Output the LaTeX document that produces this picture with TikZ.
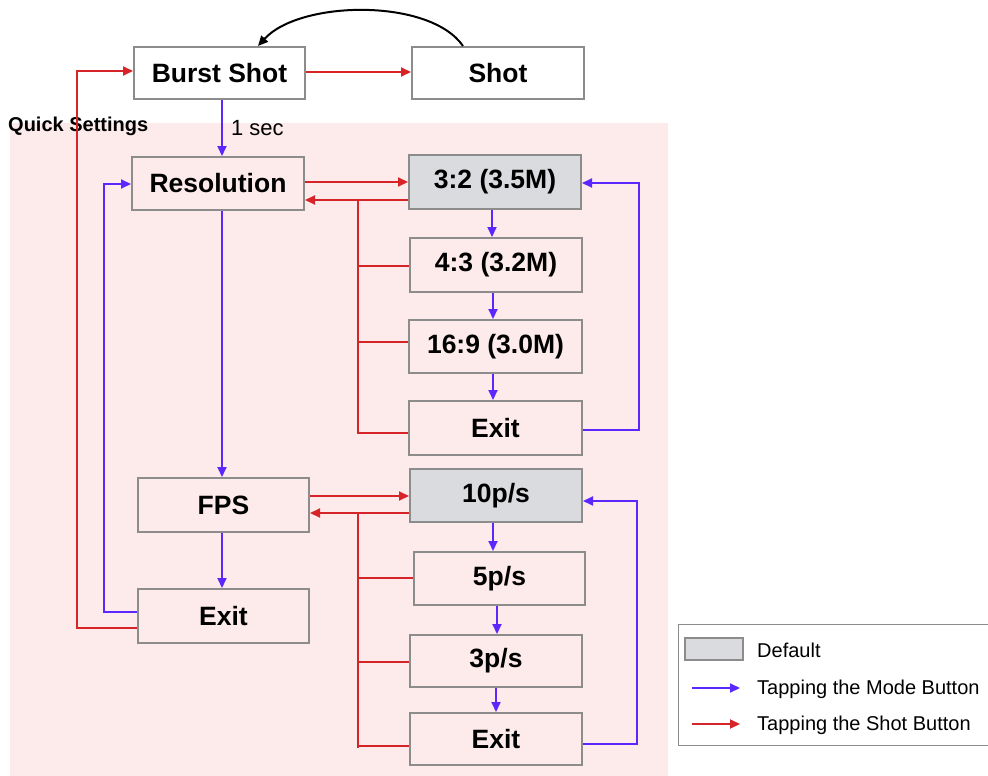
\documentclass[tikz,border=0pt]{standalone}
\usepackage{fontspec}
\setmainfont{Liberation Sans}
\usetikzlibrary{arrows.meta}
\definecolor{pinkbg}{RGB}{253,234,234}
\definecolor{boxline}{RGB}{140,140,140}
\definecolor{deffill}{RGB}{217,219,222}
\definecolor{myred}{RGB}{215,36,40}
\definecolor{myblue}{RGB}{90,40,255}
\tikzset{
  stepbox/.style={draw=boxline, line width=2pt, inner sep=0pt, font=\bfseries\fontsize{26.5}{30}\selectfont},
  defbox/.style={stepbox, fill=deffill},
  redarr/.style={draw=myred, line width=2pt, -{Triangle[length=10pt,width=9pt]}},
  redline/.style={draw=myred, line width=2pt},
  bluearr/.style={draw=myblue, line width=2pt, -{Triangle[length=10pt,width=9pt]}},
  legtext/.style={anchor=west, inner sep=0pt, font=\fontsize{20}{24}\selectfont},
}
\newcommand{\bx}[6]{\node[#1, minimum width=#4pt, minimum height=#5pt] (#2) at (#3) {#6};}
\begin{document}
\begin{tikzpicture}[x=1pt,y=-1pt]
\useasboundingbox (0,0) rectangle (988,776);
\fill[pinkbg] (10,123) rectangle (668,776);
% boxes
\bx{stepbox}{burst}{219.5,73}{171}{52}{Burst Shot}
\bx{stepbox}{shot}{498,73}{172}{52}{Shot}
\bx{stepbox}{res}{218,183.5}{172}{53}{Resolution}
\bx{defbox}{r32}{495,182}{172}{54}{3:2 (3.5M)}
\bx{stepbox}{r43}{496,265}{172}{54}{4:3 (3.2M)}
\bx{stepbox}{r169}{495.5,346.5}{173}{53}{16:9 (3.0M)}
\bx{stepbox}{rexit}{495.5,428}{173}{54}{Exit}
\bx{stepbox}{fps}{223.5,505}{171}{54}{FPS}
\bx{stepbox}{fexit}{223.5,616}{171}{54}{Exit}
\bx{defbox}{f10}{496,495.5}{172}{53}{10p/s}
\bx{stepbox}{f5}{499.5,578.5}{171}{53}{5p/s}
\bx{stepbox}{f3}{496,661}{172}{52}{3p/s}
\bx{stepbox}{fexitb}{496,739}{172}{52}{Exit}
% texts
\node[anchor=west, inner sep=0pt, font=\bfseries\fontsize{20}{24}\selectfont] (qs) at (8,126) {Quick Settings};
% black curve
\draw[line width=2pt, -{Triangle[length=10pt,width=9pt]}] (shot.north -| 463,0) .. controls (430,-2) and (300,0) .. (burst.north -| 258,0);
% red connectors
\draw[redarr] (fexit.west |- 0,628) -| (77,71) -- (burst.west |- 0,71);
\draw[redarr] (burst.east |- 0,72) -- (shot.west |- 0,72);
\draw[redarr] (res.east |- 0,182) -- (r32.west |- 0,182);
\draw[redarr] (r32.west |- 0,200) -- (res.east |- 0,200);
\draw[redline] (358,200) -- (358,433) -- (rexit.west |- 0,433);
\draw[redline] (358,266) -- (r43.west |- 0,266);
\draw[redline] (358,342) -- (r169.west |- 0,342);
\draw[redarr] (fps.east |- 0,496) -- (f10.west |- 0,496);
\draw[redarr] (f10.west |- 0,513) -- (fps.east |- 0,513);
\draw[redline] (358,513) -- (358,748);
\draw[redline] (358,746) -- (fexitb.west |- 0,746);
\draw[redline] (358,578) -- (f5.west |- 0,578);
\draw[redline] (358,662) -- (f3.west |- 0,662);
% blue connectors
\draw[bluearr] (burst.south -| 222,0) -- node[right=8pt, inner sep=0pt, font=\fontsize{22}{26}\selectfont] (sec) {1 sec} (res.north -| 222,0);
\draw[bluearr] (r32.south -| 492,0) -- (r43.north -| 492,0);
\draw[bluearr] (r43.south -| 493,0) -- (r169.north -| 493,0);
\draw[bluearr] (r169.south -| 493,0) -- (rexit.north -| 493,0);
\draw[bluearr] (rexit.east |- 0,430) -| (639,183) -- (r32.east |- 0,183);
\draw[bluearr] (res.south -| 222,0) -- (fps.north -| 222,0);
\draw[bluearr] (fps.south -| 222,0) -- (fexit.north -| 222,0);
\draw[bluearr] (fexit.west |- 0,612) -| (104,184) -- (res.west |- 0,184);
\draw[bluearr] (f10.south -| 493,0) -- (f5.north -| 493,0);
\draw[bluearr] (f5.south -| 497,0) -- (f3.north -| 497,0);
\draw[bluearr] (f3.south -| 496,0) -- (fexitb.north -| 496,0);
\draw[bluearr] (fexitb.east |- 0,744) -| (637,501) -- (f10.east |- 0,501);
% legend
\node[draw=boxline, line width=1pt, fill=white, minimum width=310pt, minimum height=121pt, inner sep=0pt] (legend) at (833,684.5) {};
\node[draw=boxline, line width=1.5pt, fill=deffill, minimum width=58pt, minimum height=22pt, inner sep=0pt] (swatch) at (714,649) {};
\node[legtext] (ldef) at (757,650) {Default};
\node[legtext] (lmode) at (757,689) {Tapping the Mode Button};
\node[legtext] (lshot) at (757,725) {Tapping the Shot Button};
\coordinate (mb1) at (692,688);
\coordinate (mb2) at (740,688);
\coordinate (sb1) at (692,724);
\coordinate (sb2) at (740,724);
\draw[bluearr] (mb1) -- (mb2);
\draw[redarr] (sb1) -- (sb2);
\end{tikzpicture}
\end{document}
